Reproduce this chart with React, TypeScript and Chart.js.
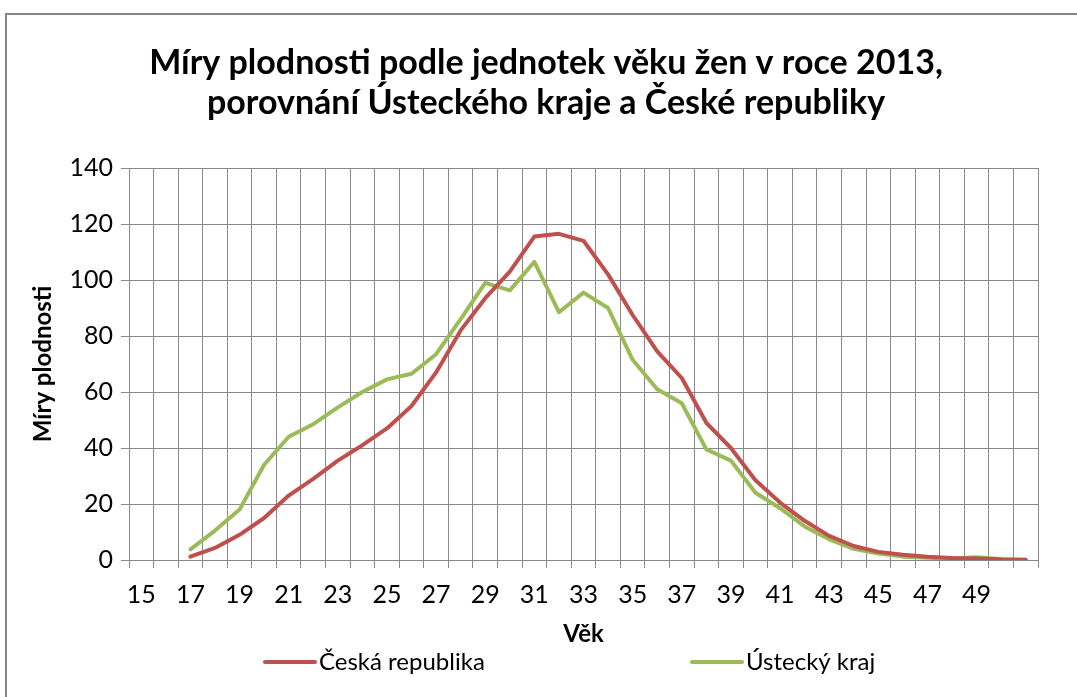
import React, { useEffect, useRef } from 'react';
import { Chart, registerables } from 'chart.js';

Chart.register(...registerables);

// Ages (categories). Only every second label is shown; the last category is unlabeled.
const ages: string[] = [
  '15', '16', '17', '18', '19', '20', '21', '22', '23', '24', '25', '26', '27', '28', '29', '30',
  '31', '32', '33', '34', '35', '36', '37', '38', '39', '40', '41', '42', '43', '44', '45', '46',
  '47', '48', '49', '50', '51',
];

// Míry plodnosti – Česká republika
const czValues: (number | null)[] = [
  null, null, 1.2, 4.3, 9, 15, 23, 29, 35.5, 41, 47, 55, 67, 82, 93.5, 103,
  115.5, 116.5, 114, 102, 87.5, 74.5, 65, 49, 40, 28.5, 20.5, 14, 8.6, 5, 2.9, 1.9,
  1.2, 0.7, 0.5, 0.2, 0.1,
];

// Míry plodnosti – Ústecký kraj
const ulValues: (number | null)[] = [
  null, null, 3.8, 10.5, 18, 34, 44, 48.5, 54.5, 60, 64.5, 66.5, 73.5, 86, 99, 96.3,
  106.5, 88.5, 95.5, 90, 71.5, 61, 56, 39.5, 35.5, 24, 18.5, 12, 7.4, 4, 2.3, 1.2,
  0.8, 0.5, 1, 0.4, 0.1,
];

const seriesNames: string[] = ['Česká republika', 'Ústecký kraj'];
const seriesColors: string[] = ['#C0504D', '#9BBB59'];

const titleLines: string[] = [
  'Míry plodnosti podle jednotek věku žen v roce 2013,',
  'porovnání Ústeckého kraje a České republiky',
];
const xTitle = 'Věk';
const yTitle = 'Míry plodnosti';

const FONT = 'Lato, "Noto Sans", sans-serif';
const GRID = '#888888';

const titlePlugin = {
  id: 'excelTitle',
  afterDraw(chart: any) {
    const ctx = chart.ctx;
    ctx.save();
    ctx.fillStyle = '#000';
    ctx.font = `bold 34px ${FONT}`;
    ctx.textAlign = 'center';
    ctx.textBaseline = 'middle';
    titleLines.forEach((line, i) => {
      ctx.fillText(line, 546, 63 + i * 40);
    });
    ctx.restore();
  },
};

const legendPlugin = {
  id: 'excelLegend',
  afterDraw(chart: any) {
    const ctx = chart.ctx;
    const starts = [263, 690];
    const y = 662;
    ctx.save();
    ctx.font = `24px ${FONT}`;
    ctx.textBaseline = 'middle';
    ctx.textAlign = 'left';
    chart.data.datasets.forEach((ds: any, i: number) => {
      const x = starts[i];
      ctx.strokeStyle = ds.borderColor;
      ctx.lineWidth = 4;
      ctx.lineCap = 'round';
      ctx.beginPath();
      ctx.moveTo(x + 2, y);
      ctx.lineTo(x + 52, y);
      ctx.stroke();
      ctx.fillStyle = '#000';
      ctx.fillText(ds.label, x + 56, y);
    });
    ctx.restore();
  },
};

export default function App() {
  const canvasRef = useRef<HTMLCanvasElement | null>(null);

  useEffect(() => {
    const canvas = canvasRef.current;
    if (!canvas) return;
    const chart = new Chart(canvas, {
      type: 'line',
      data: {
        labels: ages,
        datasets: [
          {
            label: seriesNames[0],
            data: czValues,
            borderColor: seriesColors[0],
            backgroundColor: seriesColors[0],
            borderWidth: 4,
            pointRadius: 0,
            tension: 0,
            borderJoinStyle: 'round',
            borderCapStyle: 'round',
            spanGaps: false,
          },
          {
            label: seriesNames[1],
            data: ulValues,
            borderColor: seriesColors[1],
            backgroundColor: seriesColors[1],
            borderWidth: 4,
            pointRadius: 0,
            tension: 0,
            borderJoinStyle: 'round',
            borderCapStyle: 'round',
            spanGaps: false,
          },
        ],
      },
      options: {
        responsive: false,
        animation: false,
        layout: { padding: { top: 168, right: 39, bottom: 47, left: 0 } },
        plugins: {
          legend: { display: false },
          title: { display: false },
          tooltip: { enabled: false },
        },
        scales: {
          x: {
            type: 'category',
            offset: true,
            afterFit: (scale: any) => {
              scale.height = 90;
            },
            grid: {
              offset: true,
              color: GRID,
              lineWidth: 1,
              drawTicks: true,
              tickLength: 8,
              tickColor: GRID,
            },
            border: { color: GRID, width: 1 },
            ticks: {
              autoSkip: false,
              maxRotation: 0,
              minRotation: 0,
              padding: 12,
              color: '#000',
              font: { family: FONT, size: 25 },
              callback: (_v: any, i: number) => (i % 2 === 0 && i < ages.length - 1 ? ages[i] : ''),
            },
            title: {
              display: true,
              text: xTitle,
              color: '#000',
              font: { family: FONT, size: 24, weight: 'bold' },
              padding: { top: 0, bottom: 1 },
            },
          },
          y: {
            min: 0,
            max: 140,
            afterFit: (scale: any) => {
              scale.width = 129;
            },
            grid: {
              color: GRID,
              lineWidth: 1,
              drawTicks: true,
              tickLength: 8,
              tickColor: GRID,
            },
            border: { color: GRID, width: 1 },
            ticks: {
              stepSize: 20,
              padding: 8,
              color: '#000',
              font: { family: FONT, size: 25 },
            },
            title: {
              display: true,
              text: yTitle,
              color: '#000',
              font: { family: FONT, size: 24, weight: 'bold' },
              padding: { top: 29, bottom: 0 },
            },
          },
        },
      },
      plugins: [titlePlugin, legendPlugin],
    } as any);
    return () => chart.destroy();
  }, []);

  return (
    <div
      style={{
        position: 'fixed',
        left: 0,
        top: 0,
        width: 1077,
        height: 697,
        overflow: 'hidden',
        background: '#fff',
      }}
    >
      <canvas ref={canvasRef} width={1077} height={697} style={{ display: 'block' }} />
      <div
        style={{
          position: 'absolute',
          left: 5,
          top: 13,
          width: 1200,
          height: 800,
          borderTop: '2px solid #868686',
          borderLeft: '2px solid #868686',
          pointerEvents: 'none',
        }}
      />
    </div>
  );
}
